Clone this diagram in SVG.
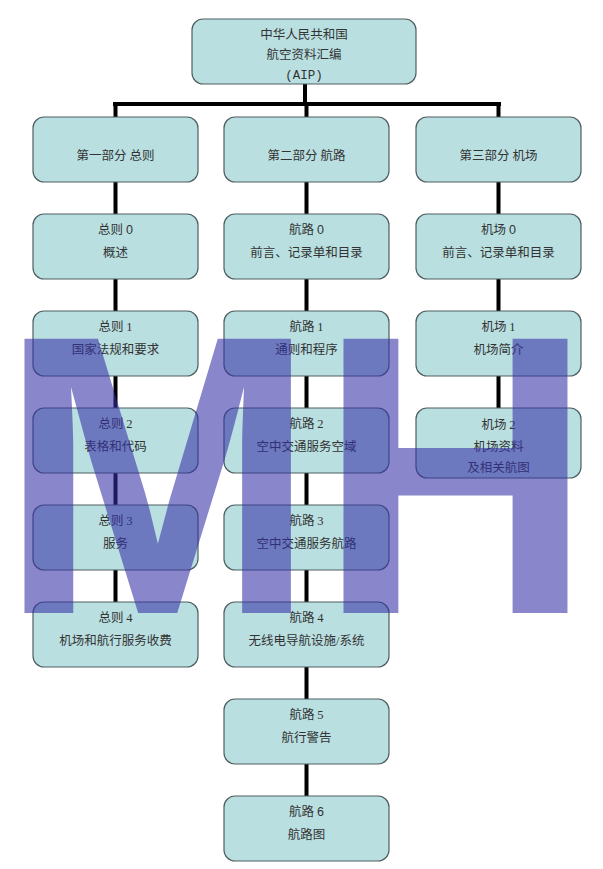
<svg xmlns="http://www.w3.org/2000/svg" width="603" height="869" viewBox="0 0 603 869">
<style>
.box{fill:#b9dfe1;stroke:#4f5f60;stroke-width:1.2}
.t{font-family:"Noto Sans CJK SC","Noto Sans",sans-serif;font-size:12.5px;fill:#333;text-anchor:middle}
.d{font-family:"Liberation Serif",serif}
.ds{font-family:"Liberation Sans",sans-serif}
.c{stroke:#000;stroke-width:4;fill:none}
.wm{font-family:"Liberation Sans",Arial,sans-serif;font-weight:bold;font-size:381px;fill:#332ea6;fill-opacity:0.58}
</style>
<rect width="603" height="869" fill="#fff"/>
<g id="connectors">
<path class="c" d="M305 84V104"/>
<path class="c" stroke-width="5" d="M113 104H501"/>
<path class="c" d="M115.5 104V117M306.5 104V117M498.5 104V117"/>
<path class="c" d="M115.5 182V214M115.5 279V311M115.5 376V408M115.5 473V505M115.5 570V602"/>
<path class="c" d="M306.5 182V214M306.5 279V311M306.5 376V408M306.5 473V505M306.5 570V602M306.5 667V699M306.5 764V796"/>
<path class="c" d="M498.5 182V214M498.5 279V311M498.5 376V408"/>
</g>
<g id="n-aip"><rect class="box" x="192" y="19" width="224" height="65" rx="11"/>
<text class="t" x="304" y="38.5">中华人民共和国</text><text class="t" x="304" y="58.5">航空资料汇编</text><text class="t" x="304" y="79" style="font-family:'Liberation Mono',monospace">(AIP)</text></g>
<g id="n-p1"><rect class="box" x="33" y="117" width="165" height="65" rx="11"/><text class="t" x="115.5" y="159.5">第一部分 总则</text></g>
<g id="n-p2"><rect class="box" x="224" y="117" width="165" height="65" rx="11"/><text class="t" x="306.5" y="159.5">第二部分 航路</text></g>
<g id="n-p3"><rect class="box" x="416" y="117" width="165" height="65" rx="11"/><text class="t" x="498.5" y="159.5">第三部分 机场</text></g>

<g id="n-g0"><rect class="box" x="33" y="214" width="165" height="65" rx="11"/><text class="t" x="115.5" y="233.5">总则 <tspan class="ds">0</tspan></text><text class="t" x="115.5" y="256.5">概述</text></g>
<g id="n-r0"><rect class="box" x="224" y="214" width="165" height="65" rx="11"/><text class="t" x="306.5" y="233.5">航路 <tspan class="ds">0</tspan></text><text class="t" x="306.5" y="256.5">前言、记录单和目录</text></g>
<g id="n-a0"><rect class="box" x="416" y="214" width="165" height="65" rx="11"/><text class="t" x="498.5" y="233.5">机场 <tspan class="ds">0</tspan></text><text class="t" x="498.5" y="256.5">前言、记录单和目录</text></g>

<g id="n-g1"><rect class="box" x="33" y="311" width="165" height="65" rx="11"/><text class="t" x="115.5" y="330.5">总则 <tspan class="d">1</tspan></text><text class="t" x="115.5" y="353.5">国家法规和要求</text></g>
<g id="n-r1"><rect class="box" x="224" y="311" width="165" height="65" rx="11"/><text class="t" x="306.5" y="330.5">航路 <tspan class="d">1</tspan></text><text class="t" x="306.5" y="353.5">通则和程序</text></g>
<g id="n-a1"><rect class="box" x="416" y="311" width="165" height="65" rx="11"/><text class="t" x="498.5" y="330.5">机场 <tspan class="d">1</tspan></text><text class="t" x="498.5" y="353.5">机场简介</text></g>

<g id="n-g2"><rect class="box" x="33" y="408" width="165" height="65" rx="11"/><text class="t" x="115.5" y="427.5">总则 <tspan class="d">2</tspan></text><text class="t" x="115.5" y="450.5">表格和代码</text></g>
<g id="n-r2"><rect class="box" x="224" y="408" width="165" height="65" rx="11"/><text class="t" x="306.5" y="427.5">航路 <tspan class="d">2</tspan></text><text class="t" x="306.5" y="450.5">空中交通服务空域</text></g>
<g id="n-a2"><rect class="box" x="416" y="408" width="165" height="70" rx="11"/><text class="t" x="498.5" y="428.5">机场 <tspan class="d">2</tspan></text><text class="t" x="498.5" y="450.5">机场资料</text><text class="t" x="498.5" y="471.5">及相关航图</text></g>

<g id="n-g3"><rect class="box" x="33" y="505" width="165" height="65" rx="11"/><text class="t" x="115.5" y="524.5">总则 <tspan class="d">3</tspan></text><text class="t" x="115.5" y="547.5">服务</text></g>
<g id="n-r3"><rect class="box" x="224" y="505" width="165" height="65" rx="11"/><text class="t" x="306.5" y="524.5">航路 <tspan class="d">3</tspan></text><text class="t" x="306.5" y="547.5">空中交通服务航路</text></g>

<g id="n-g4"><rect class="box" x="33" y="602" width="165" height="65" rx="11"/><text class="t" x="115.5" y="621.5">总则 <tspan class="d">4</tspan></text><text class="t" x="115.5" y="644.5">机场和航行服务收费</text></g>
<g id="n-r4"><rect class="box" x="224" y="602" width="165" height="65" rx="11"/><text class="t" x="306.5" y="621.5">航路 <tspan class="d">4</tspan></text><text class="t" x="306.5" y="644.5">无线电导航设施<tspan class="d">/</tspan>系统</text></g>

<g id="n-r5"><rect class="box" x="224" y="699" width="165" height="65" rx="11"/><text class="t" x="306.5" y="718.5">航路 <tspan class="d">5</tspan></text><text class="t" x="306.5" y="741.5">航行警告</text></g>
<g id="n-r6"><rect class="box" x="224" y="796" width="165" height="65" rx="11"/><text class="t" x="306.5" y="815.5">航路 <tspan class="ds">6</tspan></text><text class="t" x="306.5" y="838.5">航路图</text></g>

<g id="watermark">
<text class="wm" transform="translate(-1,613) scale(1,1.046)">M</text>
<text class="wm" transform="translate(318,613) scale(1,1.046)">H</text>
</g>
</svg>
